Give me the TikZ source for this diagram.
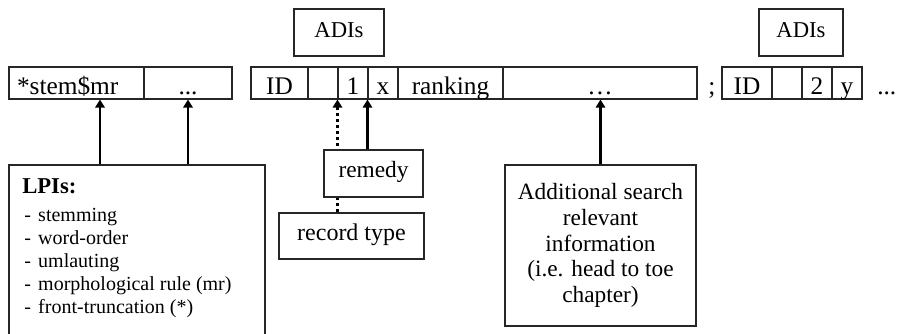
\documentclass[tikz,border=0pt]{standalone}
\usepackage{fontspec}
\setmainfont{Liberation Serif}
\usetikzlibrary{arrows.meta}
\begin{document}
\begin{tikzpicture}[x=0.75pt,y=-0.75pt,
 box/.style={draw=black!85, line width=0.8pt, inner sep=0pt, fill=white},
 cell/.style={box, minimum height=32*0.75pt, text height=16.5pt, text depth=0pt, font=\fontsize{19}{23}\selectfont},
 rowtext/.style={anchor=base, inner sep=0pt, font=\fontsize{19}{23}\selectfont},
 adi/.style={box, minimum height=47*0.75pt, text height=6.75pt, text depth=0pt, font=\fontsize{17}{20}\selectfont},
 arr/.style={line width=2pt, -{Triangle[length=6pt,width=7pt]}},
 dotarr/.style={arr, dash pattern=on 2.5pt off 2pt},
]
\useasboundingbox (0,0) rectangle (897,333);

% first record part
\node[cell, minimum width=135*0.75pt, text width=119*0.75pt, align=left] (c1) at (76.5,83) {*stem\$mr};
\node[cell, minimum width=88*0.75pt] (c2) at (188,83) {...};

% middle record
\node[cell, minimum width=57*0.75pt] (r1) at (279.5,83) {ID};
\node[cell, minimum width=30*0.75pt] (r2) at (323,83) {};
\node[cell, minimum width=30*0.75pt] (r3) at (353,83) {1};
\node[cell, minimum width=30*0.75pt] (r4) at (383,83) {x};
\node[cell, minimum width=105*0.75pt] (r5) at (450.5,83) {ranking};
\node[cell, minimum width=194*0.75pt] (r6) at (600,83) {\ldots};

\node[rowtext] (semi) at (712,94) {;};

% right record
\node[cell, minimum width=50*0.75pt] (s1) at (747,83) {ID};
\node[cell, minimum width=30*0.75pt] (s2) at (787,83) {};
\node[cell, minimum width=30*0.75pt] (s3) at (817,83) {2};
\node[cell, minimum width=30*0.75pt] (s4) at (847,83) {y};
\node[rowtext, anchor=base west] (more) at (877,94) {...};

% ADIs
\node[adi, minimum width=90*0.75pt] (a1) at (339,32.5) {ADIs};
\node[adi, minimum width=84*0.75pt] (a2) at (801,32.5) {ADIs};

% LPI box
\node[box, minimum width=256*0.75pt, minimum height=180*0.75pt] (lpi) at (137,255) {};
\node[anchor=base west, inner sep=0pt, font=\bfseries\fontsize{17}{20}\selectfont] (lpih) at (22,193) {LPIs:};
\node[anchor=north west, inner sep=0pt, font=\fontsize{15}{17.3}\selectfont] (lpil) at (24,205)
 {\begin{tabular}{@{}l@{\hspace{5.5pt}}l@{}}
 - & stemming\\
 - & word-order\\
 - & umlauting\\
 - & morphological rule (mr)\\
 - & front-truncation (*)
 \end{tabular}};

% record type and remedy
\node[box, minimum width=145*0.75pt, minimum height=46*0.75pt, text height=6pt, text depth=0pt, font=\fontsize{18}{21}\selectfont] (rec) at (351.5,236) {record type};
\draw[dotarr] (rec.north -| r3.west) -- (r3.south west);
\node[box, minimum width=99*0.75pt, minimum height=47*0.75pt, text height=5.25pt, text depth=0pt, font=\fontsize{17.5}{21}\selectfont] (rem) at (373.5,173.5) {remedy};
\draw[arr] (rem.north -| r4.west) -- (r4.south west);

% additional info
\node[box, minimum width=191*0.75pt, minimum height=161*0.75pt, align=center, font=\fontsize{17.5}{19.3}\selectfont] (add) at (600.5,245.5)
 {Additional search\\relevant\\information\\(i.e. head to toe\\chapter)};
\draw[arr] (add.north) -- (add.north |- r6.south);

% LPI arrows
\coordinate (x100) at (100,0);
\draw[arr] (x100 |- lpi.north) -- (x100 |- c1.south);
\draw[arr] (c2 |- lpi.north) -- (c2.south);
\end{tikzpicture}
\end{document}
